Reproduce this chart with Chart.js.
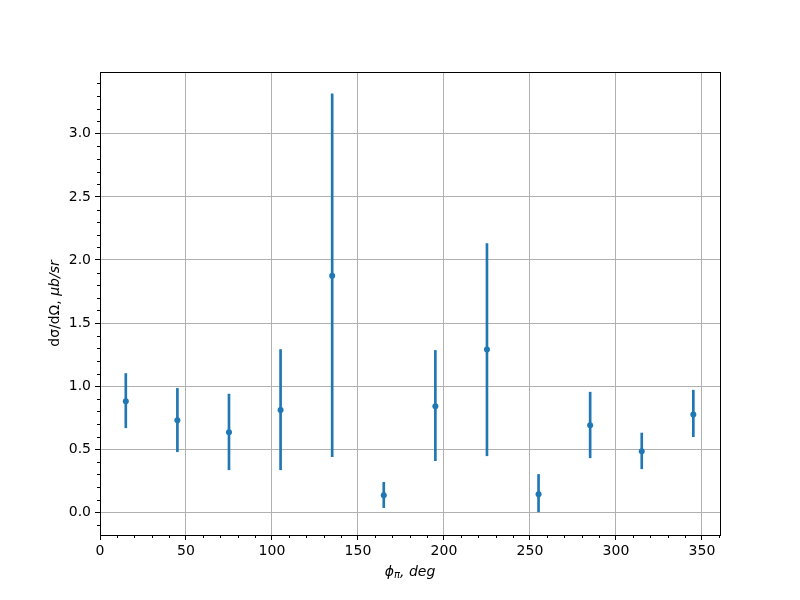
<!DOCTYPE html>
<html>
<head>
<meta charset="utf-8">
<script src="https://cdn.jsdelivr.net/npm/chart.js@4/dist/chart.umd.min.js"></script>
<style>
  html, body { margin: 0; padding: 0; background: #fff; }
  #wrap { width: 800px; height: 600px; }
</style>
</head>
<body>
<div id="wrap"><canvas id="grafico" width="800" height="600"></canvas></div>
<script>
// angles (deg) and measured cross sections
const phi = [15, 45, 75, 105, 135, 165, 195, 225, 255, 285, 315, 345];
const sigma = [0.88, 0.73, 0.635, 0.81, 1.875, 0.135, 0.84, 1.29, 0.143, 0.69, 0.483, 0.776];
const errLow = [0.67, 0.48, 0.337, 0.337, 0.44, 0.037, 0.409, 0.448, 0.0, 0.432, 0.345, 0.599];
const errHigh = [1.10, 0.982, 0.937, 1.29, 3.317, 0.238, 1.283, 2.13, 0.30, 0.952, 0.628, 0.968];
const xTicks = [0, 50, 100, 150, 200, 250, 300, 350];
const yTicks = [0.0, 0.5, 1.0, 1.5, 2.0, 2.5, 3.0];

const azul = '#1f77b4';
const fonte = '"DejaVu Sans", sans-serif';

// minor ticks, frame and axis labels (matplotlib look)
const extras = {
  id: 'extras',
  afterDraw(chart) {
    const ctx = chart.ctx;
    const a = chart.chartArea;
    const sx = chart.scales.x, sy = chart.scales.y;
    ctx.save();
    ctx.strokeStyle = '#000';
    ctx.lineWidth = 1;
    for (let v = 0; v <= 360; v += 10) {
      if (v % 50 === 0) continue;
      const px = Math.round(sx.getPixelForValue(v)) + 0.5;
      ctx.beginPath(); ctx.moveTo(px, a.bottom); ctx.lineTo(px, a.bottom + 3); ctx.stroke();
    }
    for (let r = -1; r <= 34; r++) {
      if (r % 5 === 0) continue;
      const py = Math.round(sy.getPixelForValue(r / 10)) + 0.5;
      ctx.beginPath(); ctx.moveTo(a.left, py); ctx.lineTo(a.left - 3, py); ctx.stroke();
    }
    ctx.strokeRect(Math.round(a.left) + 0.5, Math.round(a.top) + 0.5, Math.round(a.right - a.left), Math.round(a.bottom - a.top));

    // x label: phi_pi, deg
    ctx.fillStyle = '#000';
    ctx.textBaseline = 'alphabetic';
    const cx = (a.left + a.right) / 2, by = 576;
    ctx.font = 'italic 14px ' + fonte;
    const w1 = ctx.measureText('ϕ').width;
    ctx.font = 'italic 10px ' + fonte;
    const w2 = ctx.measureText('π').width;
    ctx.font = 'italic 14px ' + fonte;
    const w3 = ctx.measureText(', deg').width;
    let x0 = cx - (w1 + w2 + w3) / 2;
    ctx.textAlign = 'left';
    ctx.fillText('ϕ', x0, by);
    ctx.font = 'italic 10px ' + fonte;
    ctx.fillText('π', x0 + w1, by + 2);
    ctx.font = 'italic 14px ' + fonte;
    ctx.fillText(', deg', x0 + w1 + w2, by);

    // y label: dσ/dΩ, μb/sr
    ctx.translate(59, (a.top + a.bottom) / 2);
    ctx.rotate(-Math.PI / 2);
    ctx.font = '14px ' + fonte;
    const p1 = 'dσ/dΩ, ';
    const l1 = ctx.measureText(p1).width;
    ctx.font = 'italic 14px ' + fonte;
    const l2 = ctx.measureText('μb/sr').width;
    const s = -(l1 + l2) / 2;
    ctx.font = '14px ' + fonte;
    ctx.fillText(p1, s, 0);
    ctx.font = 'italic 14px ' + fonte;
    ctx.fillText('μb/sr', s + l1, 0);
    ctx.restore();
  }
};

let grafico = new Chart(document.getElementById('grafico').getContext('2d'), {
  type: 'bar',
  data: {
    datasets: [{
        type: 'scatter',
        label: 'pontos',
        data: phi.map((x, i) => ({ x: x, y: sigma[i] })),
        backgroundColor: azul,
        borderColor: azul,
        pointRadius: 3,
        pointBorderWidth: 0,
        order: 0
      },
      {
        type: 'bar',
        label: 'erros',
        data: phi.map((x, i) => ({ x: x, y: [errLow[i], errHigh[i]] })),
        backgroundColor: azul,
        borderWidth: 0,
        barThickness: 2,
        order: 1
      }
    ]
  },
  options: {
    responsive: false,
    animation: false,
    layout: { padding: { top: 72, right: 80, left: 0, bottom: 0 } },
    plugins: { legend: { display: false }, tooltip: { enabled: false } },
    scales: {
      x: {
        type: 'linear',
        offset: false,
        min: 0,
        max: 360.5,
        afterBuildTicks: (sc) => { sc.ticks = xTicks.map(v => ({ value: v })); },
        afterFit: (sc) => { sc.height = 65; },
        grid: { offset: false, color: '#b0b0b0', lineWidth: 1, tickColor: '#000', tickLength: 5 },
        border: { display: false },
        ticks: { color: '#000', font: { family: fonte, size: 14 }, padding: 3, maxRotation: 0 }
      },
      y: {
        type: 'linear',
        min: -0.18,
        max: 3.49,
        afterBuildTicks: (sc) => { sc.ticks = yTicks.map(v => ({ value: v })); },
        afterFit: (sc) => { sc.width = 100; },
        grid: { color: '#b0b0b0', lineWidth: 1, tickColor: '#000', tickLength: 5 },
        border: { display: false },
        ticks: { color: '#000', font: { family: fonte, size: 14 }, padding: 4, callback: (v) => v.toFixed(1) }
      }
    }
  },
  plugins: [extras]
});
</script>
</body>
</html>
